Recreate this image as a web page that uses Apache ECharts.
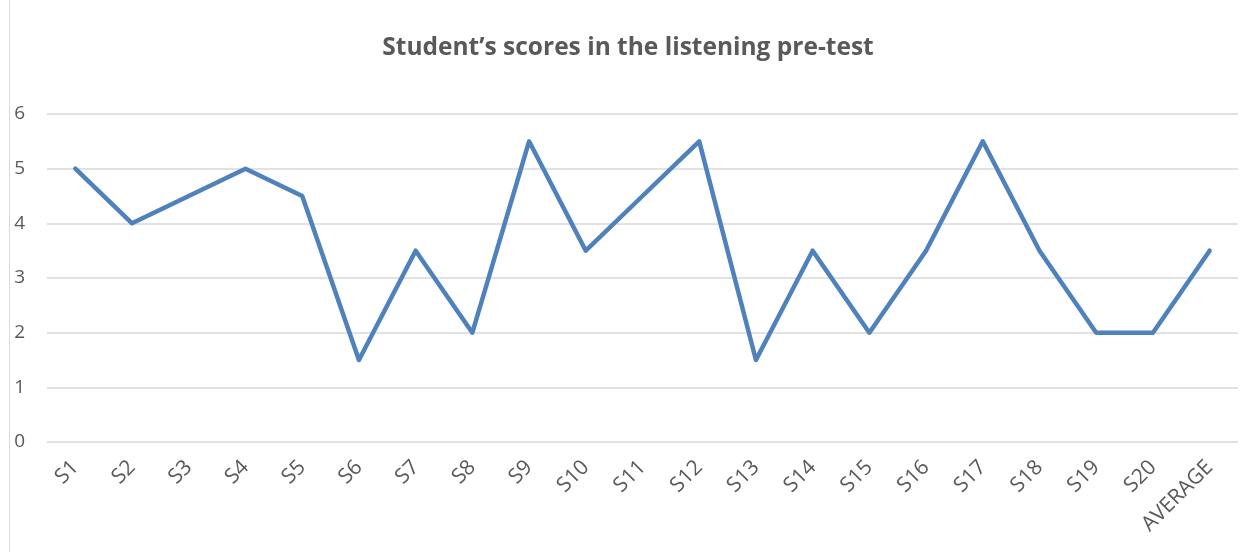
<!DOCTYPE html>
<html><head><meta charset="utf-8">
<script src="https://cdn.jsdelivr.net/npm/echarts@6/dist/echarts.min.js"></script>
<style>html,body{margin:0;padding:0;background:#fff}#c{width:1256px;height:552px}</style>
</head><body><div id="c"></div>
<script>
const categories = ['S1','S2','S3','S4','S5','S6','S7','S8','S9','S10','S11','S12','S13','S14','S15','S16','S17','S18','S19','S20','AVERAGE'];
const scores = [5,4,4.5,5,4.5,1.5,3.5,2,5.5,3.5,4.5,5.5,1.5,3.5,2,3.5,5.5,3.5,2,2,3.5];
const titleText = 'Student\u2019s scores in the listening pre-test';
const chart = echarts.init(document.getElementById('c'), null, {renderer:'canvas'});
chart.setOption({
  animation:false,
  title:{text:titleText,left:'center',top:31,textStyle:{fontFamily:'Open Sans',fontWeight:'bold',fontSize:24.5,color:'#595959'}},
  graphic:[{type:'line',shape:{x1:9.5,y1:0,x2:9.5,y2:552},style:{stroke:'#d9d9d9',lineWidth:1}}],
  grid:{left:47,right:18,top:114,bottom:110,containLabel:false},
  xAxis:{type:'category',data:categories,boundaryGap:true,
    axisLine:{show:false},axisTick:{show:false},
    axisLabel:{rotate:45,interval:0,fontFamily:'Open Sans',fontSize:21,color:'#595959',margin:22}},
  yAxis:{type:'value',min:0,max:6,interval:1,
    axisLabel:{fontFamily:'Open Sans',fontSize:19,color:'#595959',margin:22},
    splitLine:{lineStyle:{color:'#d9d9d9',width:1.5}}},
  series:[{type:'line',data:scores,symbol:'none',lineStyle:{color:'#4f81bd',width:4.5,join:'round',cap:'round'}}]
});
</script></body></html>
